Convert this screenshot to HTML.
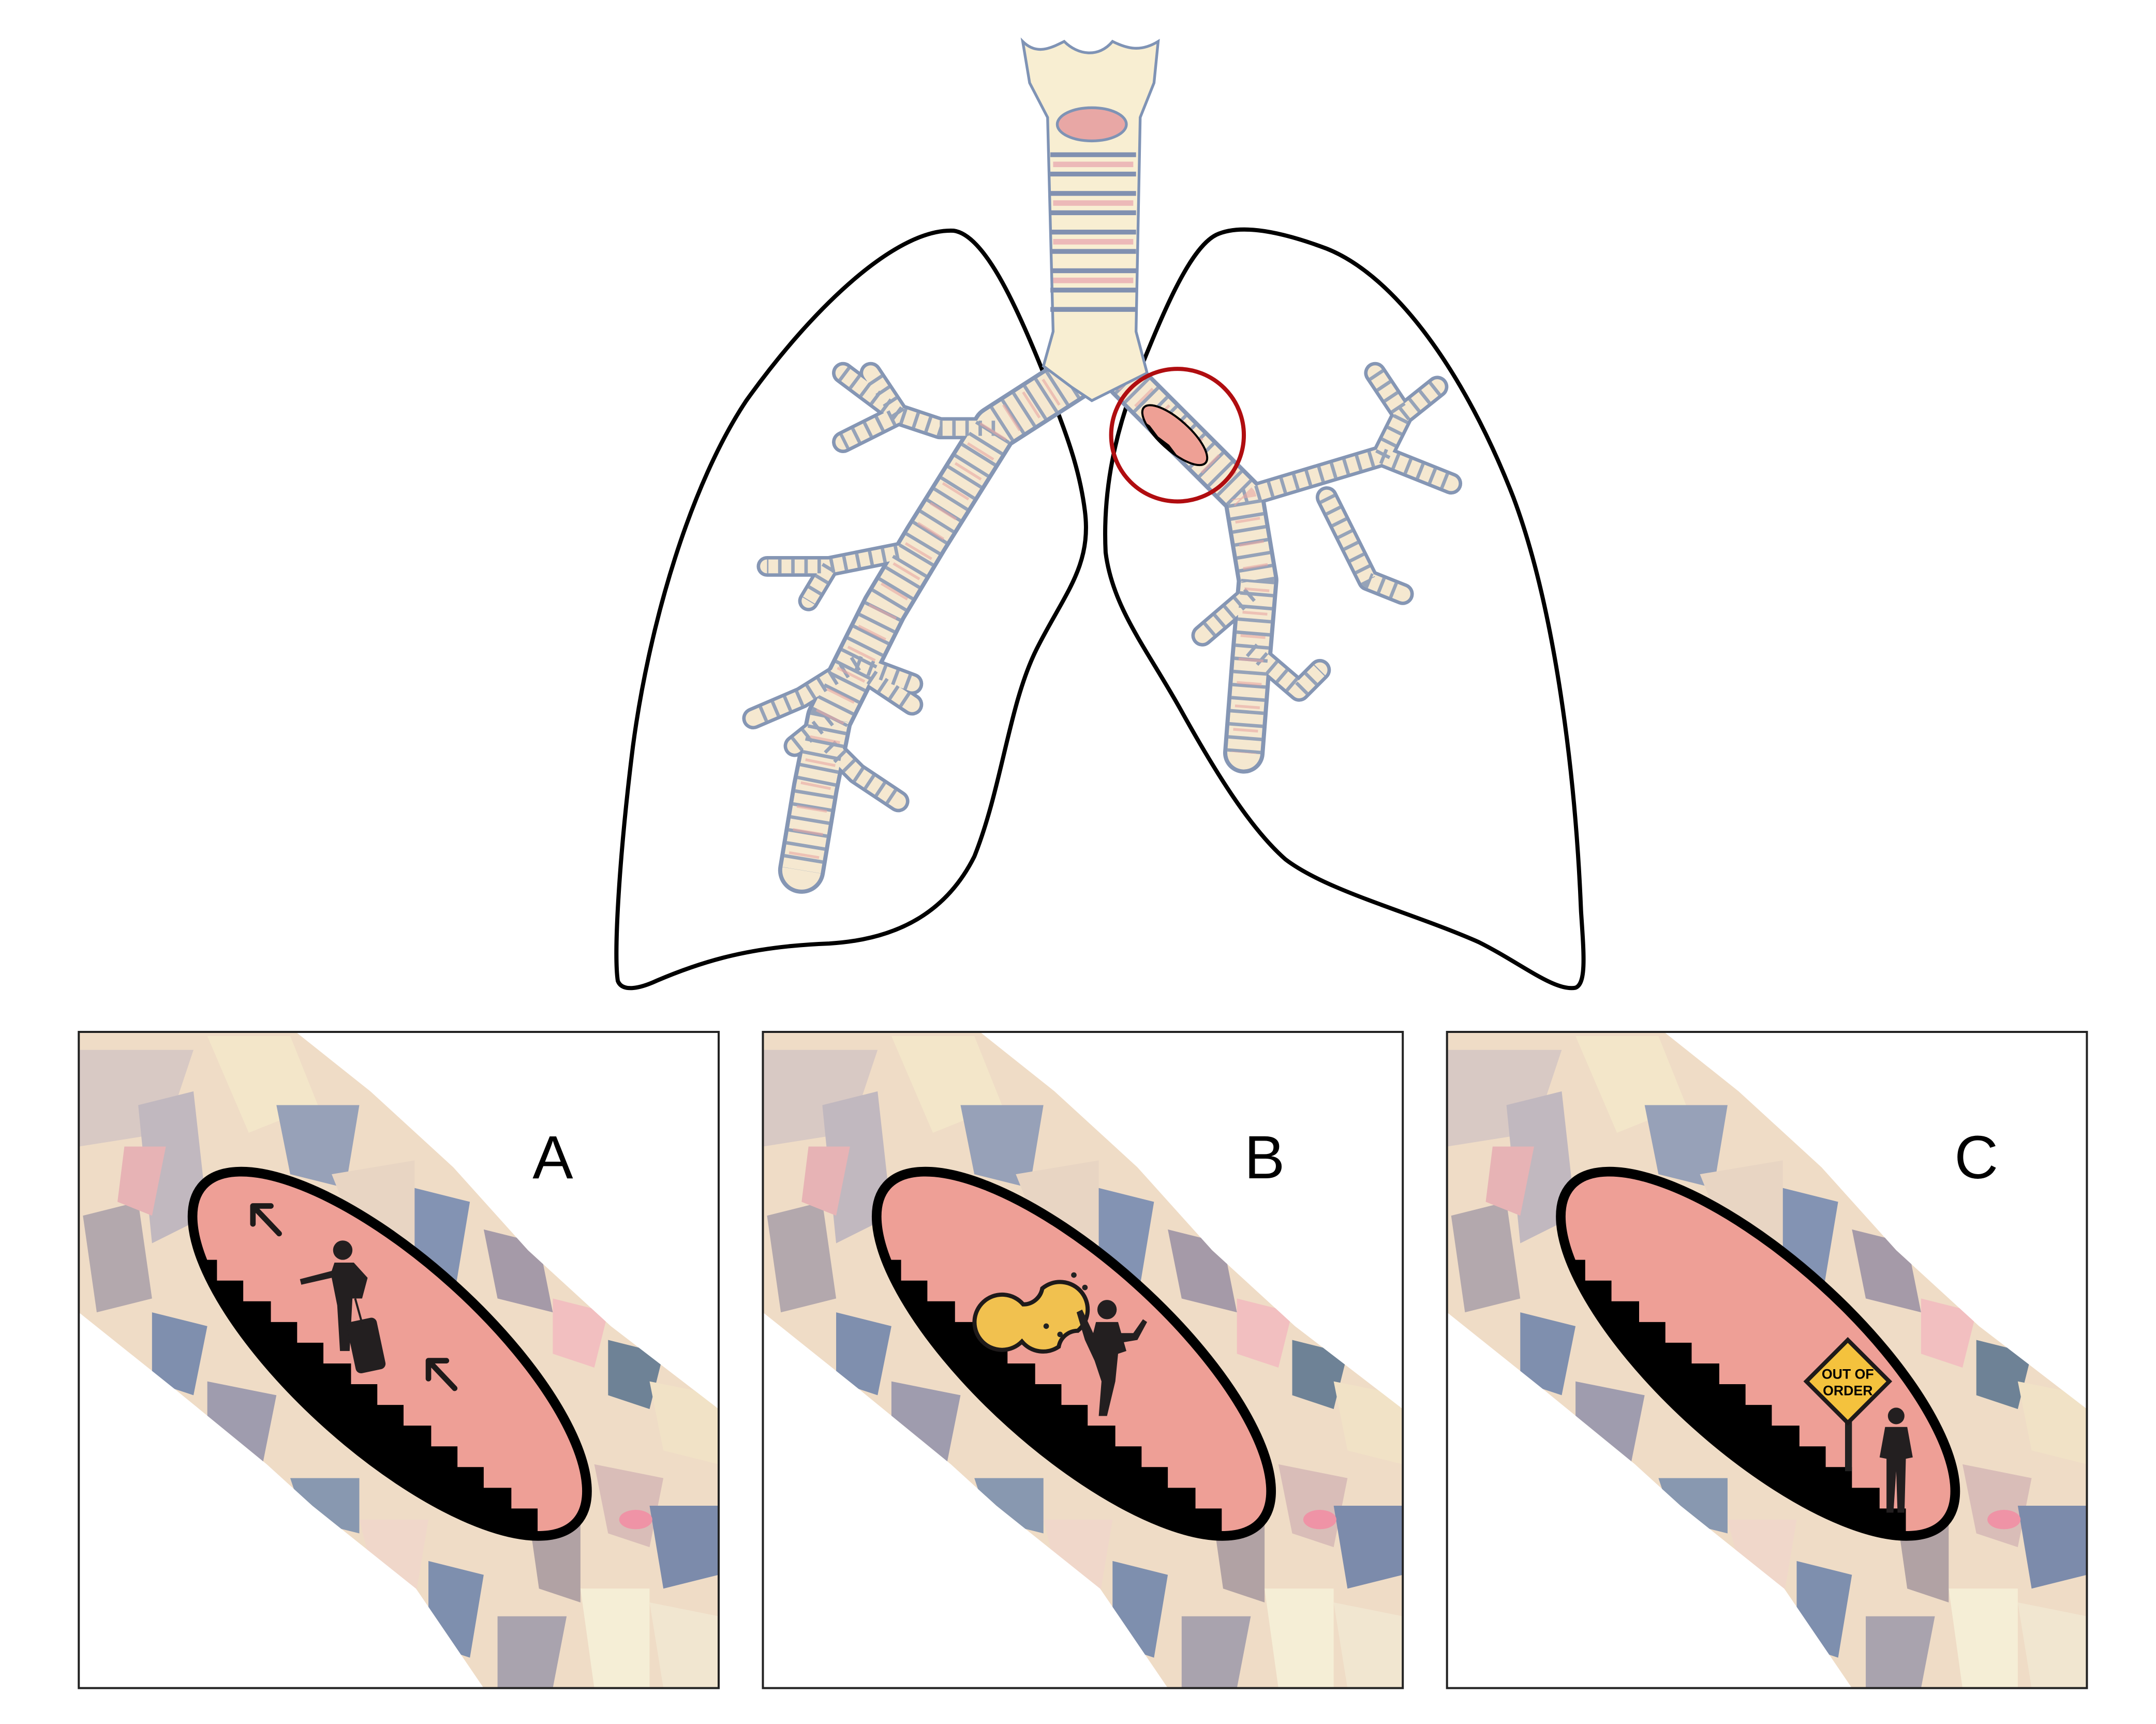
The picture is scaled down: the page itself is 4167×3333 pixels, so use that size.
<!DOCTYPE html>
<html><head><meta charset="utf-8"><style>html,body{margin:0;padding:0;background:#fff}svg{display:block}</style></head>
<body>
<svg width="4167" height="3333" viewBox="0 0 1560 1248" preserveAspectRatio="none" xmlns="http://www.w3.org/2000/svg">
<defs>
<clipPath id="band"><path d="M57,747 L214,747 L268,790 L328,845 L382,905 L442,960 L520,1020 L520,1222 L350,1222 L301,1150 L226,1090 L193,1060 L127,1006 L57,950 Z"/></clipPath>
<clipPath id="ell"><ellipse cx="282" cy="980" rx="182" ry="68" transform="rotate(42 282 980)"/></clipPath>
<clipPath id="sell"><ellipse cx="850" cy="315" rx="30" ry="11" transform="rotate(42 850 315)"/></clipPath>
<g id="bg">
 <g clip-path="url(#band)">
  <rect x="57" y="747" width="463" height="475" fill="#efdcc6"/>
  <path d="M57,760 L140,760 L120,820 L57,830Z" fill="#d8c9c4"/>
  <path d="M150,750 L210,750 L230,800 L180,820Z" fill="#f3e6c9"/>
  <path d="M100,800 L140,790 L150,880 L110,900Z" fill="#c1b8bf"/>
  <path d="M60,880 L100,870 L110,940 L70,950Z" fill="#b3a8ad"/>
  <path d="M200,800 L260,800 L250,860 L210,850Z" fill="#97a1b8"/>
  <path d="M240,850 L300,840 L300,900 L260,900Z" fill="#e8d5c3"/>
  <path d="M300,860 L340,870 L330,930 L300,920Z" fill="#8393b3"/>
  <path d="M350,890 L390,900 L400,950 L360,940Z" fill="#a59aa8"/>
  <path d="M400,940 L440,950 L430,990 L400,980Z" fill="#f2bfc0"/>
  <path d="M440,970 L480,980 L470,1020 L440,1010Z" fill="#6e8296"/>
  <path d="M470,1000 L520,1010 L520,1060 L480,1050Z" fill="#f1e2c6"/>
  <path d="M110,950 L150,960 L140,1010 L110,1000Z" fill="#7f8fae"/>
  <path d="M150,1000 L200,1010 L190,1060 L150,1040Z" fill="#9f9cae"/>
  <path d="M210,1070 L260,1070 L260,1110 L220,1100Z" fill="#8898b0"/>
  <path d="M260,1100 L310,1100 L300,1160 L270,1140Z" fill="#f0d7ca"/>
  <path d="M310,1130 L350,1140 L340,1200 L310,1190Z" fill="#7e8fae"/>
  <path d="M380,1080 L420,1090 L420,1160 L390,1150Z" fill="#b1a2a4"/>
  <path d="M430,1060 L480,1070 L470,1120 L440,1110Z" fill="#d9bdb8"/>
  <path d="M470,1090 L520,1090 L520,1140 L480,1150Z" fill="#7c8bab"/>
  <path d="M420,1150 L470,1150 L470,1222 L430,1222Z" fill="#f5eed6"/>
  <path d="M360,1170 L410,1170 L400,1222 L360,1222Z" fill="#a9a3ae"/>
  <path d="M470,1160 L520,1170 L520,1222 L480,1222Z" fill="#f1e6d0"/>
  <path d="M90,830 L120,830 L110,880 L85,870Z" fill="#e7b3b5"/>
  <ellipse cx="460" cy="1100" rx="12" ry="7" fill="#ef93a6"/>
 </g>
</g>
<g id="ellipseStairs">
 <ellipse cx="282" cy="980" rx="182" ry="68" transform="rotate(42 282 980)" fill="#ee9f96"/>
 <g clip-path="url(#ell)">
  <path d="M100,912 L157,912 L157,927 L176,927 L176,942 L196,942 L196,957 L215,957 L215,972 L234,972 L234,987 L254,987 L254,1002 L273,1002 L273,1017 L292,1017 L292,1032 L312,1032 L312,1047 L331,1047 L331,1062 L350,1062 L350,1077 L370,1077 L370,1092 L389,1092 L389,1120 L100,1120 Z" fill="#000"/>
 </g>
 <ellipse cx="282" cy="980" rx="182" ry="68" transform="rotate(42 282 980)" fill="none" stroke="#000" stroke-width="7"/>
</g>
</defs>

<!-- Lungs -->
<path d="M690,167 C650,165 590,220 540,290 C500,350 470,450 458,540 C448,620 444,690 447,710 C450,718 462,716 475,710 C510,695 545,685 600,683 C650,680 685,660 705,620 C725,570 730,510 750,470 C770,430 790,410 785,370 C780,330 765,300 755,270 C735,220 712,170 690,167 Z" fill="none" stroke="#000" stroke-width="3"/>
<path d="M880,170 C860,180 840,230 820,280 C805,320 798,360 800,400 C805,440 830,470 855,515 C880,560 905,600 930,622 C960,645 1020,660 1070,682 C1100,697 1125,718 1140,715 C1148,712 1146,690 1144,660 C1140,560 1125,440 1095,360 C1060,270 1010,200 960,180 C920,165 895,163 880,170 Z" fill="none" stroke="#000" stroke-width="3"/>

<!-- bronchial tree -->
<g fill="none" stroke-linejoin="round">
 <g stroke="#8596b4" stroke-linecap="round">
  <path d="M790,265 L720,310 L670,390 L640,440 L620,480 L600,520 L590,570 L580,630" stroke-width="34"/>
  <path d="M720,310 L680,310 L650,300 L610,320 M650,300 L630,270 M650,300 L610,270" stroke-width="16"/>
  <path d="M650,400 L600,410 L555,410 M600,410 L585,435" stroke-width="15"/>
  <path d="M620,480 L580,505 L545,520 M620,480 L660,495 M600,520 L575,540 M600,540 L620,560 L650,580 M630,490 L660,510" stroke-width="16"/>
  <path d="M815,275 L870,330 L900,360 L910,420 L905,480 L900,545" stroke-width="30"/>
  <path d="M900,360 L950,345 L1000,330 L1015,300 L995,270 M1015,300 L1040,280 M1000,330 L1050,350 M960,360 L990,420 L1015,430 M905,430 L870,460 M905,470 L940,500 L955,485" stroke-width="16"/>
 </g>
 <g stroke="#f5e8d0" stroke-linecap="round">
  <path d="M790,265 L720,310 L670,390 L640,440 L620,480 L600,520 L590,570 L580,630" stroke-width="28"/>
  <path d="M720,310 L680,310 L650,300 L610,320 M650,300 L630,270 M650,300 L610,270" stroke-width="11"/>
  <path d="M650,400 L600,410 L555,410 M600,410 L585,435" stroke-width="10"/>
  <path d="M620,480 L580,505 L545,520 M620,480 L660,495 M600,520 L575,540 M600,540 L620,560 L650,580 M630,490 L660,510" stroke-width="11"/>
  <path d="M815,275 L870,330 L900,360 L910,420 L905,480 L900,545" stroke-width="24"/>
  <path d="M900,360 L950,345 L1000,330 L1015,300 L995,270 M1015,300 L1040,280 M1000,330 L1050,350 M960,360 L990,420 L1015,430 M905,430 L870,460 M905,470 L940,500 L955,485" stroke-width="11"/>
 </g>
 <g stroke="#8596b4" stroke-linecap="butt" stroke-dasharray="2.5 7" opacity="0.85">
  <path d="M790,265 L720,310 L670,390 L640,440 L620,480 L600,520 L590,570 L580,630" stroke-width="28"/>
  <path d="M815,275 L870,330 L900,360 L910,420 L905,480 L900,545" stroke-width="24"/>
  <path d="M720,310 L680,310 L650,300 L610,320 M650,300 L630,270 M650,300 L610,270" stroke-width="11"/>
  <path d="M650,400 L600,410 L555,410 M600,410 L585,435" stroke-width="10"/>
  <path d="M620,480 L580,505 L545,520 M620,480 L660,495 M600,520 L575,540 M600,540 L620,560 L650,580 M630,490 L660,510" stroke-width="11"/>
  <path d="M900,360 L950,345 L1000,330 L1015,300 L995,270 M1015,300 L1040,280 M1000,330 L1050,350 M960,360 L990,420 L1015,430 M905,430 L870,460 M905,470 L940,500 L955,485" stroke-width="11"/>
 </g>
 <g stroke="#e7a7a3" stroke-linecap="butt" stroke-dasharray="2 15" opacity="0.6">
  <path d="M790,265 L720,310 L670,390 L640,440 L620,480 L600,520 L590,570 L580,630" stroke-width="22"/>
  <path d="M815,275 L870,330 L900,360 L910,420 L905,480 L900,545" stroke-width="18"/>
 </g>
</g>
<!-- trachea -->
<path d="M740,30 C750,40 760,35 770,30 C780,40 795,42 805,30 C815,35 825,38 838,30 L835,60 L825,85 L822,240 L830,270 L810,280 L790,290 L775,280 L755,265 L762,240 L758,85 L745,60 Z" fill="#f8eed2" stroke="#7f93b5" stroke-width="2"/>
<ellipse cx="790" cy="90" rx="25" ry="12" fill="#e8a7a5" stroke="#7f93b5" stroke-width="2"/>
<g stroke="#8190b0" stroke-width="3.5">
 <line x1="760" y1="112" x2="822" y2="112"/><line x1="760" y1="126" x2="822" y2="126"/>
 <line x1="760" y1="140" x2="822" y2="140"/><line x1="760" y1="154" x2="822" y2="154"/>
 <line x1="760" y1="168" x2="822" y2="168"/><line x1="760" y1="182" x2="822" y2="182"/>
 <line x1="760" y1="196" x2="822" y2="196"/><line x1="760" y1="210" x2="822" y2="210"/>
 <line x1="760" y1="224" x2="822" y2="224"/>
</g>
<g stroke="#e8a3ae" stroke-width="4" opacity="0.7">
 <line x1="762" y1="119" x2="820" y2="119"/><line x1="762" y1="147" x2="820" y2="147"/>
 <line x1="762" y1="175" x2="820" y2="175"/><line x1="762" y1="203" x2="820" y2="203"/>
</g>
<!-- red circle -->
<circle cx="852" cy="315" r="48" fill="none" stroke="#b00d10" stroke-width="3"/>
<ellipse cx="850" cy="315" rx="30" ry="11" transform="rotate(42 850 315)" fill="#eea095"/>
<g clip-path="url(#sell)">
 <path d="M820,300 L832,308 L838,316 L846,322 L852,330 L860,336 L870,345 L820,345 Z" fill="#000"/>
</g>
<ellipse cx="850" cy="315" rx="30" ry="11" transform="rotate(42 850 315)" fill="none" stroke="#000" stroke-width="1.5"/>

<!-- Panel A -->
<use href="#bg"/>
<use href="#ellipseStairs"/>
<rect x="57" y="747" width="463" height="475" fill="none" stroke="#222" stroke-width="1.5"/>
<text x="400" y="853" font-family="Liberation Sans, sans-serif" font-size="44" text-anchor="middle">A</text>
<g stroke="#1e1a1a" stroke-width="4" stroke-linecap="round" fill="none">
 <path d="M202,893 L183,873 M183,873 L183,886 M183,873 L196,873"/>
 <path d="M329,1005 L310,985 M310,985 L310,998 M310,985 L323,985"/>
</g>
<g fill="#231f20">
 <circle cx="248" cy="905" r="7"/>
 <path d="M242,914 L256,914 L266,925 L262,940 L255,940 L253,978 L246,978 L244,945 L240,925 L218,930 L217,926 L240,920 Z"/>
 <rect x="254" y="955" width="22" height="38" rx="4" transform="rotate(-12 265 974)"/>
 <line x1="257" y1="940" x2="262" y2="958" stroke="#231f20" stroke-width="1.5"/>
</g>

<!-- Panel B -->
<g transform="translate(495,0)">
 <use href="#bg"/>
 <use href="#ellipseStairs"/>
 <rect x="57" y="747" width="463" height="475" fill="none" stroke="#222" stroke-width="1.5"/>
 <text x="420" y="853" font-family="Liberation Sans, sans-serif" font-size="44" text-anchor="middle">B</text>
 <g transform="rotate(-40 272 948)">
  <path d="M236,948 a20,20 0 1 1 18,-20 a14,14 0 0 0 18,0 a20,20 0 1 1 0,40 a14,14 0 0 0 -18,0 a20,20 0 0 1 -18,-20 Z" fill="#f1c14f" stroke="#1e1a1a" stroke-width="3"/>
 </g>
 <circle cx="262" cy="960" r="2" fill="#222"/><circle cx="272" cy="966" r="2" fill="#222"/><circle cx="282" cy="923" r="2" fill="#222"/><circle cx="290" cy="932" r="2" fill="#222"/>
 <g fill="#231f20">
  <circle cx="306" cy="948" r="7"/>
  <path d="M298,957 L314,957 L320,978 L314,980 L312,1000 L306,1025 L300,1025 L302,1000 L297,985 L290,970 L284,950 L288,948 L296,965 Z"/>
  <path d="M314,965 L325,965 L332,955 L335,957 L328,970 L316,972Z"/>
 </g>
</g>

<!-- Panel C -->
<g transform="translate(990,0)">
 <use href="#bg"/>
 <use href="#ellipseStairs"/>
 <rect x="57" y="747" width="463" height="475" fill="none" stroke="#222" stroke-width="1.5"/>
 <text x="440" y="853" font-family="Liberation Sans, sans-serif" font-size="44" text-anchor="middle">C</text>
 <rect x="345" y="1025" width="5" height="40" fill="#222"/>
 <path d="M347,970 L377,1000 L347,1030 L317,1000 Z" fill="#f4c23d" stroke="#1e1a1a" stroke-width="3"/>
 <text x="347" y="998" font-family="Liberation Sans, sans-serif" font-size="10" font-weight="bold" text-anchor="middle">OUT OF</text>
 <text x="347" y="1010" font-family="Liberation Sans, sans-serif" font-size="10" font-weight="bold" text-anchor="middle">ORDER</text>
 <g fill="#231f20">
  <circle cx="382" cy="1025" r="6"/>
  <path d="M374,1033 L390,1033 L394,1055 L389,1056 L388,1095 L383,1095 L382,1065 L380,1095 L375,1095 L375,1056 L370,1055 Z"/>
 </g>
</g>
</svg>
</body></html>
